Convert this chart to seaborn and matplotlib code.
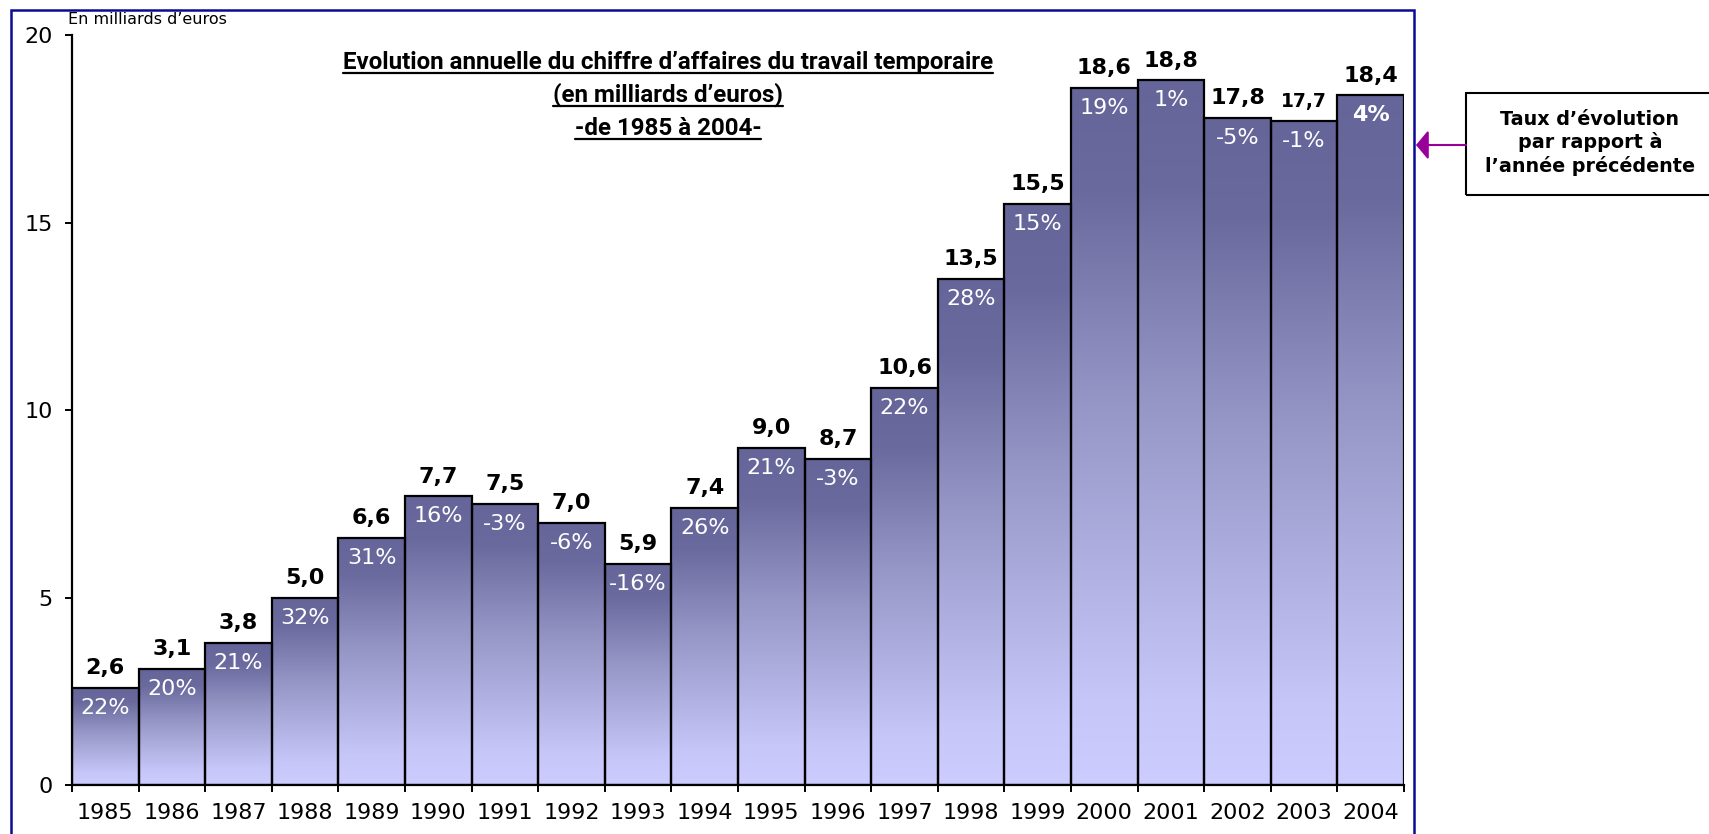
import numpy as np
import pandas as pd
import matplotlib
matplotlib.use("Agg")
import matplotlib.pyplot as plt
import seaborn as sns
from matplotlib import font_manager
from matplotlib.colors import LinearSegmentedColormap
from matplotlib.patches import Rectangle, FancyArrowPatch
from matplotlib.lines import Line2D

# ---------------- data ----------------
years = [str(y) for y in range(1985, 2005)]
ca_values = [2.6, 3.1, 3.8, 5.0, 6.6, 7.7, 7.5, 7.0, 5.9, 7.4,
             9.0, 8.7, 10.6, 13.5, 15.5, 18.6, 18.8, 17.8, 17.7, 18.4]
evol_pct = [22, 20, 21, 32, 31, 16, -3, -6, -16, 26,
            21, -3, 22, 28, 15, 19, 1, -5, -1, 4]
y_ticks = [0, 5, 10, 15, 20]
title_lines = ["Evolution annuelle du chiffre d’affaires du travail temporaire",
               "(en milliards d’euros)",
               "-de 1985 à 2004-"]
y_unit = "En milliards d’euros"
note_text = "Taux d’évolution\npar rapport à\nl’année précédente"

# ---------------- style ----------------
sns.set_theme(style="white")
plt.rcParams["font.family"] = ["DejaVu Sans"]


def find_family(cands):
    for c in cands:
        try:
            font_manager.findfont(font_manager.FontProperties(family=c),
                                  fallback_to_default=False)
            return c
        except Exception:
            pass
    return "DejaVu Sans"


title_family = find_family(["Roboto", "Liberation Sans", "DejaVu Sans"])

W, H = 1709, 834
fig = plt.figure(figsize=(W / 100, H / 100), dpi=100)
fig.patch.set_facecolor("white")
ax = fig.add_axes([72 / W, 1 - 785 / H, (1404 - 72) / W, (785 - 35) / H])

df = pd.DataFrame({"annee": years, "ca": ca_values})
sns.barplot(data=df, x="annee", y="ca", width=1.0, color="#9999cc",
            edgecolor="black", linewidth=1.6, ax=ax, zorder=2)

# gradient fill per bar
cmap = LinearSegmentedColormap.from_list(
    "grad", [(0.0, "#CCCCFF"), (0.12, "#C6C6F8"), (0.55, "#9595C6"),
             (0.85, "#6A6A9E"), (1.0, "#65659A")])
grad = np.linspace(0, 1, 256).reshape(-1, 1)
for p in list(ax.patches):
    x0, w, h = p.get_x(), p.get_width(), p.get_height()
    p.set_facecolor("none")
    im = ax.imshow(grad, cmap=cmap, origin="lower", aspect="auto",
                   extent=(x0, x0 + w, 0, h), zorder=1.5,
                   interpolation="bilinear")
    im.set_clip_path(p)

ax.set_xlim(-0.5, len(years) - 0.5)
ax.set_ylim(0, 20)
ax.set_xlabel("")
ax.set_ylabel("")
ax.grid(False)

# labels
for i, (v, pc) in enumerate(zip(ca_values, evol_pct)):
    vsize = 13.5 if years[i] == "2003" else 16
    ax.annotate(f"{v:.1f}".replace(".", ","), (i, v), xytext=(0, 14),
                textcoords="offset points", ha="center", va="center",
                fontsize=vsize, fontweight="bold", color="black", zorder=5)
    ax.annotate(f"{pc}%", (i, v), xytext=(0, -14.5),
                textcoords="offset points", ha="center", va="center",
                fontsize=16, color="white", zorder=5,
                fontweight="bold" if years[i] == "2004" else "normal")

# ticks
ax.set_yticks(y_ticks)
ax.set_yticklabels([str(t) for t in y_ticks])
ax.set_xticks(np.arange(-0.5, len(years), 1.0))
ax.set_xticklabels([])
ax.set_xticks(np.arange(len(years)), minor=True)
ax.set_xticklabels(years, minor=True)
ax.tick_params(axis="x", which="major", bottom=True, length=5, width=1.4,
               color="black", direction="out")
ax.tick_params(axis="x", which="minor", bottom=True, length=0, pad=13,
               labelsize=16, labelcolor="black")
ax.tick_params(axis="y", which="major", left=True, length=5, width=1.4,
               color="black", pad=9, labelsize=16, labelcolor="black")

for s in ["top", "right"]:
    ax.spines[s].set_visible(False)
for s in ["left", "bottom"]:
    ax.spines[s].set_color("black")
    ax.spines[s].set_linewidth(1.6)
    ax.spines[s].set_zorder(6)

# outer blue frame
fig.add_artist(Rectangle((11 / W, -0.05), (1414 - 11) / W, (834 - 10) / H + 0.05,
                         transform=fig.transFigure, fill=False,
                         edgecolor="#0a0a96", linewidth=1.8, zorder=0))

# unit label
fig.text(68 / W, 1 - 19 / H, y_unit, fontsize=11.5, ha="left", va="center",
         color="black")

# title with underline
renderer = fig.canvas.get_renderer()
probe = fig.text(0, 0, title_lines[0], fontsize=12, fontweight="bold",
                 family=title_family)
pw = probe.get_window_extent(renderer).width
probe.remove()
tsize = min(18.0, 12 * 649 / pw)

baselines = [69, 102, 135]
title_texts = []
for line, b in zip(title_lines, baselines):
    t = fig.text(668 / W, 1 - b / H, line, fontsize=tsize, fontweight="bold",
                 family=title_family, ha="center", va="baseline", color="black")
    title_texts.append((t, b))
fig.canvas.draw()
renderer = fig.canvas.get_renderer()
for t, b in title_texts:
    bb = t.get_window_extent(renderer)
    yline = 1 - (b + 3.5) / H
    fig.add_artist(Line2D([bb.x0 / W, bb.x1 / W], [yline, yline],
                          transform=fig.transFigure, color="black",
                          linewidth=1.6))

# note box and arrow
fig.add_artist(Rectangle((1466 / W, 1 - 195 / H), 320 / W, 102 / H,
                         transform=fig.transFigure, fill=False,
                         edgecolor="black", linewidth=1.5))
fig.text(1590 / W, 1 - 143 / H, note_text, fontsize=13.8, fontweight="bold",
         ha="center", va="center", multialignment="center", linespacing=1.22,
         color="black")
fig.add_artist(FancyArrowPatch((1466 / W, 1 - 145 / H), (1416 / W, 1 - 145 / H),
                               transform=fig.transFigure,
                               arrowstyle="-|>,head_length=0.75,head_width=0.9",
                               mutation_scale=10, color="#990099",
                               linewidth=1.5, shrinkA=0, shrinkB=0))

fig.savefig("out.png", dpi=100, facecolor="white")
